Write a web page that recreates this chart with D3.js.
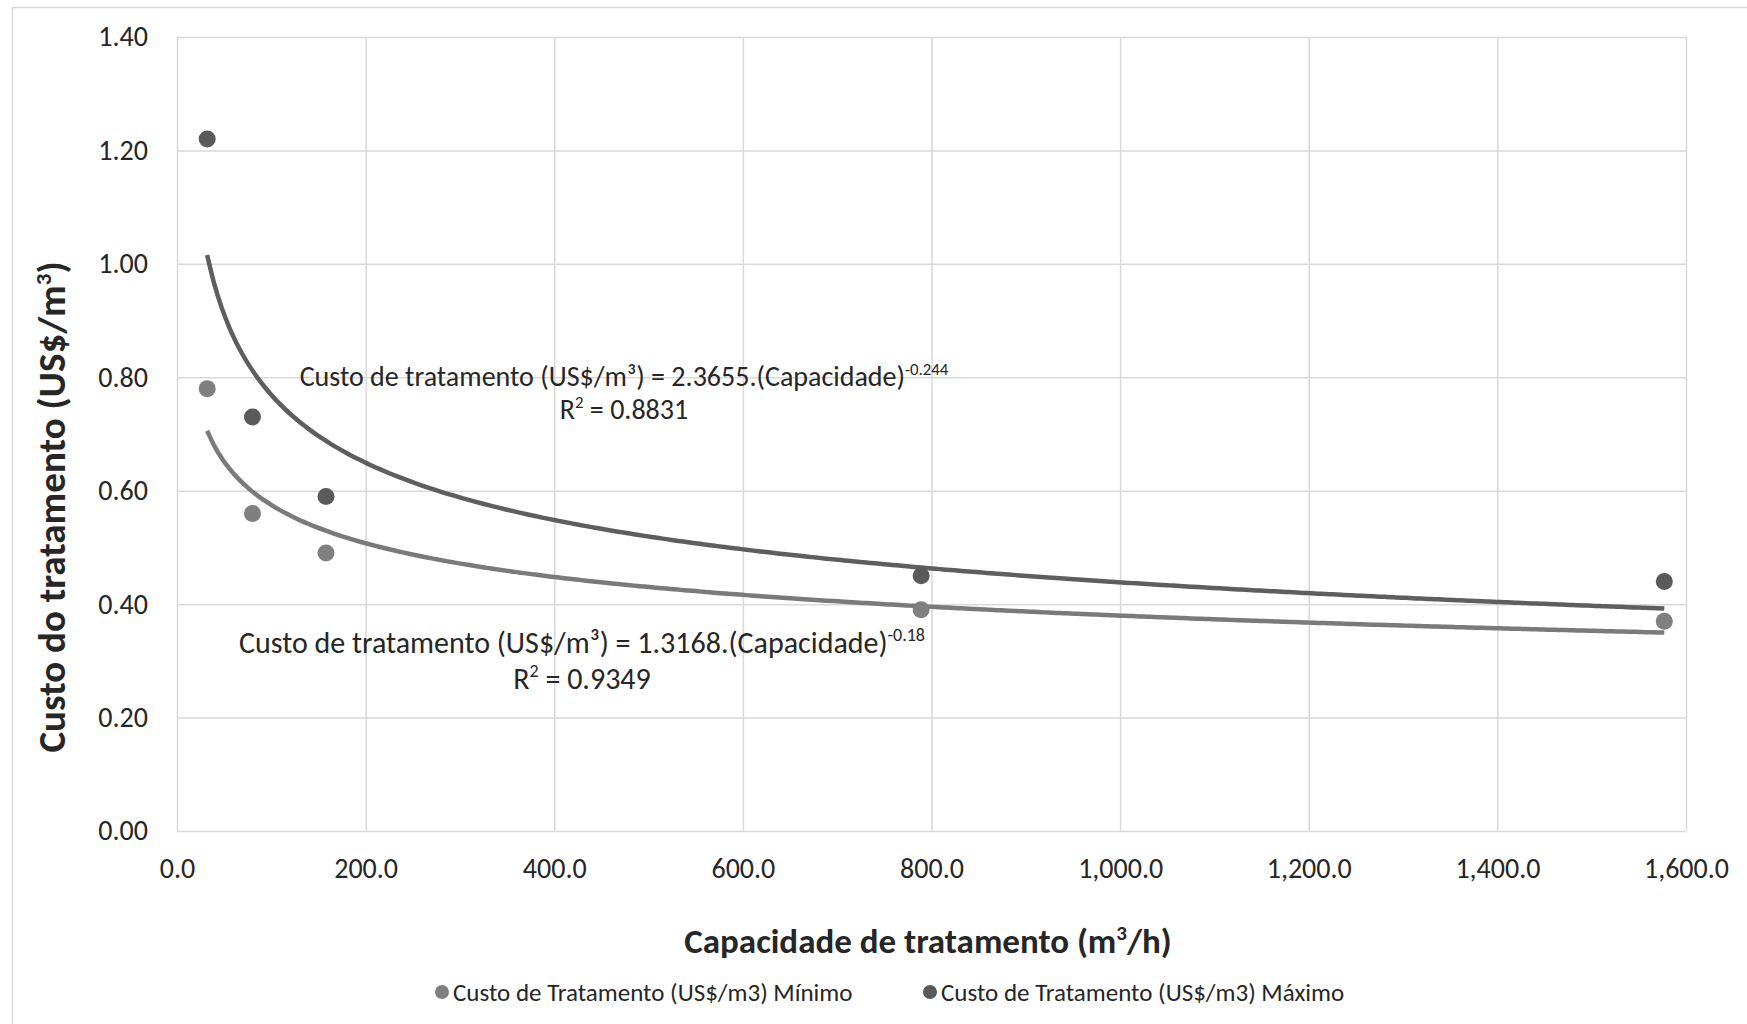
<!DOCTYPE html>
<html lang="pt">
<head>
<meta charset="UTF-8">
<title>Custo do tratamento</title>
<script src="https://d3js.org/d3.v7.min.js"></script>
<style>
body{margin:0; background:#fff;}
svg text{font-family: Carlito, Calibri, Lato, sans-serif; fill:#262626;}
</style>
</head>
<body>
<div id="chart"></div>
<script>
// data
var capacidade = [32, 80, 158, 789, 1577];
var custoMinimo = [0.78, 0.56, 0.49, 0.39, 0.37];
var custoMaximo = [1.22, 0.73, 0.59, 0.45, 0.44];
var xTicks = [0, 200, 400, 600, 800, 1000, 1200, 1400, 1600];
var yTicks = [0, 0.2, 0.4, 0.6, 0.8, 1.0, 1.2, 1.4];
// power trendlines as printed on the chart: a * x^b
var trendMinimo = [1.3168, -0.18];
var trendMaximo = [2.3655, -0.244];
var seriesNames = ["Custo de Tratamento (US$/m3) Mínimo", "Custo de Tratamento (US$/m3) Máximo"];

var W = 1747, H = 1024;
var margin = {left:177, right:61, top:37, bottom:193};

var svg = d3.select("#chart").append("svg")
	.attr("width", W)
	.attr("height", H);

// outer chart border
svg.append("rect")
	.attr("x", 12.5).attr("y", 7.5)
	.attr("width", 1800).attr("height", 1100)
	.attr("fill", "none")
	.attr("stroke", "#d9d9d9")
	.attr("stroke-width", 1.5);

var x = d3.scaleLinear().domain([0, 1600]).range([margin.left, W - margin.right]);
var y = d3.scaleLinear().domain([0, 1.4]).range([H - margin.bottom, margin.top]);

// gridlines
svg.append("g")
	.attr("transform", "translate(0," + (H - margin.bottom) + ")")
	.call(d3.axisBottom(x).tickValues(xTicks).tickSize(-(H - margin.top - margin.bottom)).tickFormat(""))
	.call(function(g){ g.select(".domain").remove(); })
	.selectAll("line").attr("stroke", "#d9d9d9").attr("stroke-width", 1.5);

svg.append("g")
	.attr("transform", "translate(" + margin.left + ",0)")
	.call(d3.axisLeft(y).tickValues(yTicks).tickSize(-(W - margin.left - margin.right)).tickFormat(""))
	.call(function(g){ g.select(".domain").remove(); })
	.selectAll("line").attr("stroke", "#d9d9d9").attr("stroke-width", 1.5);

// tick labels
var xAxis = svg.append("g")
	.attr("transform", "translate(0," + (H - margin.bottom) + ")")
	.call(d3.axisBottom(x).tickValues(xTicks).tickSize(0).tickPadding(27).tickFormat(d3.format(",.1f")));
xAxis.select(".domain").remove();
xAxis.selectAll("text").style("font-size", "28px").attr("fill", "#262626");

var yAxis = svg.append("g")
	.attr("transform", "translate(" + margin.left + ",0)")
	.call(d3.axisLeft(y).tickValues(yTicks).tickSize(0).tickPadding(29).tickFormat(d3.format(".2f")));
yAxis.select(".domain").remove();
yAxis.selectAll("text").style("font-size", "28px").attr("fill", "#262626");

// trendlines
function trendPoints(coef){
	var pts = [];
	var x0 = capacidade[0], x1 = capacidade[capacidade.length - 1];
	for (var i = 0; i <= 200; i++){
		var v = x0 + (x1 - x0) * i / 200;
		pts.push([v, coef[0] * Math.pow(v, coef[1])]);
	}
	return pts;
}
var line = d3.line()
	.x(function(d){ return x(d[0]); })
	.y(function(d){ return y(d[1]); })
	.curve(d3.curveMonotoneX);

svg.append("path")
	.attr("d", line(trendPoints(trendMaximo)))
	.attr("fill", "none")
	.attr("stroke", "#5e5e5e")
	.attr("stroke-width", 4.5);

svg.append("path")
	.attr("d", line(trendPoints(trendMinimo)))
	.attr("fill", "none")
	.attr("stroke", "#7a7a7a")
	.attr("stroke-width", 4.5);

// points
svg.selectAll("circle.min")
	.data(capacidade)
	.enter()
	.append("circle")
	.attr("class", "min")
	.attr("cx", function(d){ return x(d); })
	.attr("cy", function(d, i){ return y(custoMinimo[i]); })
	.attr("r", 8.5)
	.attr("fill", "#7f7f7f");

svg.selectAll("circle.max")
	.data(capacidade)
	.enter()
	.append("circle")
	.attr("class", "max")
	.attr("cx", function(d){ return x(d); })
	.attr("cy", function(d, i){ return y(custoMaximo[i]); })
	.attr("r", 8.5)
	.attr("fill", "#5a5a5a");

// equation labels
function eqLabel(cx, cy, size, coef, r2, gap, lead){
	var t = svg.append("text")
		.attr("x", cx).attr("y", cy)
		.attr("text-anchor", "middle")
		.style("font-size", size + "px");
	t.append("tspan").text("Custo de tratamento" + gap + "(US$/m³) = " + coef[0].toFixed(4) + ".(Capacidade)");
	t.append("tspan").attr("dy", -size * 0.4).style("font-size", (size * 0.6) + "px").text(String(coef[1]));
	var r = svg.append("text")
		.attr("x", cx).attr("y", cy + lead)
		.attr("text-anchor", "middle")
		.style("font-size", size + "px");
	r.append("tspan").text("R");
	r.append("tspan").attr("dy", -size * 0.4).style("font-size", (size * 0.6) + "px").text("2");
	r.append("tspan").attr("dy", size * 0.4).text(" = " + r2);
}
eqLabel(624, 386, 28, trendMaximo, "0.8831", " ", 33);
eqLabel(582, 653, 30, trendMinimo, "0.9349", "  ", 36);

// axis titles
var xt = svg.append("text")
	.attr("x", 928).attr("y", 953)
	.attr("text-anchor", "middle")
	.style("font-size", "35px").style("font-weight", "bold")
	.attr("fill", "#000");
xt.append("tspan").text("Capacidade de tratamento (m");
xt.append("tspan").attr("dy", -13).style("font-size", "21px").text("3");
xt.append("tspan").attr("dy", 13).text("/h)");

var yt = svg.append("text")
	.attr("transform", "translate(65,507) rotate(-90)")
	.attr("text-anchor", "middle")
	.style("font-size", "39px").style("font-weight", "bold")
	.attr("fill", "#000");
yt.append("tspan").text("Custo do tratamento  (US$/m");
yt.append("tspan").attr("dy", -14).style("font-size", "23px").text("3");
yt.append("tspan").attr("dy", 14).text(")");

// legend
var legend = svg.selectAll("g.legend")
	.data(seriesNames)
	.enter()
	.append("g")
	.attr("class", "legend")
	.attr("transform", function(d, i){ return "translate(" + (442 + i * 488) + ",992)"; });
legend.append("circle")
	.attr("r", 7)
	.attr("fill", function(d, i){ return i === 0 ? "#7f7f7f" : "#5a5a5a"; });
legend.append("text")
	.attr("x", 11).attr("dy", "0.35em")
	.style("font-size", "25px")
	.attr("fill", "#404040")
	.text(function(d){ return d; });
</script>
</body>
</html>
